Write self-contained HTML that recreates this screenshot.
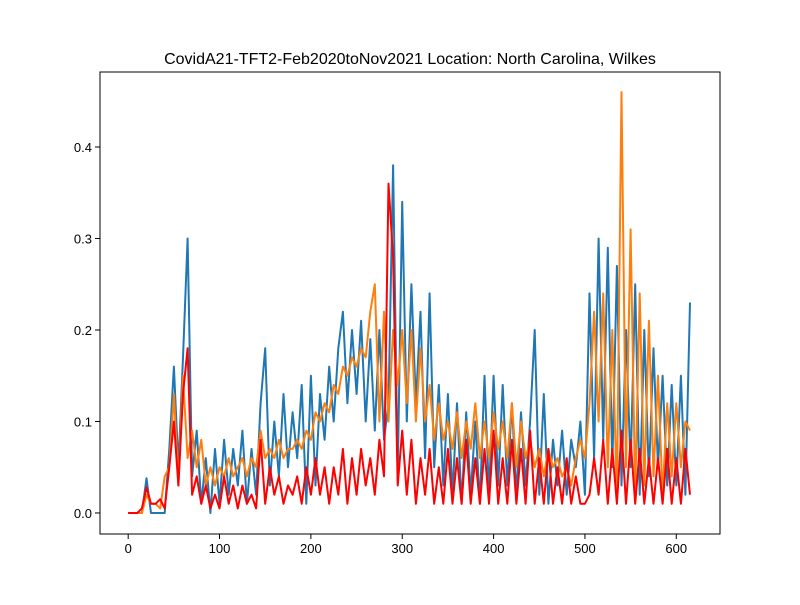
<!DOCTYPE html>
<html><head><meta charset="utf-8"><style>
body{margin:0;background:#fff;font-family:"Liberation Sans","DejaVu Sans",sans-serif}
</style></head><body>
<svg id="chart" width="800" height="600" xmlns="http://www.w3.org/2000/svg">
<rect width="800" height="600" fill="#fff"/>
<text x="410" y="64" text-anchor="middle" font-size="16">CovidA21-TFT2-Feb2020toNov2021 Location: North Carolina, Wilkes</text>
<g id="plot"></g>
<rect x="100" y="72" width="620" height="462" fill="none" stroke="#000" stroke-width="1"/>
</svg>
<script>
const xStep = 5;
const blueVals = [0,0,0,0,0.038,0,0,0,0,0.07,
0.16,0.05,0.17,0.3,0.04,0.09,0.01,0.06,0,0.07,
0.01,0.08,0.02,0.07,0.03,0.09,0.01,0.07,0.02,0.12,
0.18,0.03,0.1,0.04,0.13,0.05,0.11,0.06,0.14,0.01,
0.15,0.03,0.13,0.08,0.16,0.1,0.18,0.22,0.12,0.2,
0.13,0.21,0.1,0.19,0.09,0.2,0.08,0.12,0.38,0.04,
0.34,0.1,0.25,0.12,0.22,0.06,0.24,0.05,0.14,0.03,
0.13,0.02,0.12,0.01,0.11,0.02,0.1,0.01,0.15,0.02,
0.15,0.03,0.14,0.03,0.12,0.02,0.11,0.03,0.1,0.2,
0.02,0.13,0.01,0.08,0.03,0.09,0.02,0.08,0.05,0.1,
0.02,0.24,0.06,0.3,0.08,0.29,0.05,0.27,0.03,0.2,
0.05,0.25,0.02,0.2,0.04,0.18,0.05,0.15,0.03,0.14,
0.03,0.15,0.02,0.23];
const orangeVals = [0,0,0,0,0.02,0.01,0.01,0.005,0.04,0.05,
0.13,0.03,0.15,0.06,0.09,0.05,0.08,0.03,0.05,0.03,
0.05,0.04,0.06,0.04,0.05,0.06,0.04,0.06,0.05,0.09,
0.06,0.07,0.06,0.08,0.06,0.07,0.07,0.08,0.07,0.09,
0.08,0.11,0.1,0.12,0.11,0.14,0.13,0.16,0.15,0.17,
0.16,0.18,0.17,0.22,0.25,0.1,0.22,0.1,0.2,0.14,
0.2,0.12,0.2,0.1,0.18,0.1,0.14,0.08,0.12,0.08,
0.1,0.07,0.11,0.06,0.1,0.07,0.12,0.06,0.1,0.06,
0.11,0.07,0.1,0.06,0.12,0.05,0.1,0.06,0.08,0.05,
0.07,0.04,0.07,0.05,0.06,0.04,0.05,0.03,0.06,0.08,
0.06,0.12,0.22,0.1,0.24,0.05,0.2,0.02,0.46,0.05,
0.31,0.02,0.24,0.03,0.21,0.04,0.15,0.02,0.12,0.04,
0.12,0.05,0.1,0.09];
const redVals = [0,0,0,0.005,0.028,0.01,0.01,0.015,0.005,0.05,
0.1,0.03,0.13,0.18,0.02,0.04,0.01,0.03,0.005,0.02,
0.005,0.04,0.01,0.03,0.005,0.03,0.01,0.02,0.005,0.08,
0.01,0.05,0.02,0.04,0.01,0.03,0.02,0.04,0.01,0.05,
0.02,0.06,0.02,0.05,0.01,0.05,0.02,0.07,0.01,0.06,
0.02,0.07,0.03,0.06,0.02,0.08,0.04,0.36,0.28,0.03,
0.09,0.02,0.08,0.01,0.06,0.02,0.07,0.01,0.05,0.01,
0.07,0.01,0.06,0.01,0.08,0.01,0.06,0.01,0.07,0.01,
0.09,0.01,0.06,0.01,0.08,0.01,0.07,0.01,0.09,0.01,
0.06,0.01,0.07,0.01,0.05,0.01,0.06,0.01,0.04,0.01,
0.01,0.02,0.06,0.02,0.08,0.01,0.07,0.01,0.09,0.01,
0.08,0.01,0.07,0.01,0.06,0.01,0.06,0.01,0.07,0.01,
0.06,0.01,0.07,0.02];
const xTicks = [0,100,200,300,400,500,600];
const yTicks = [0.0,0.1,0.2,0.3,0.4];

const L=100,R=720,T=72,B=534;
const xMin=-30.85,xMax=647.85,yMin=-0.023,yMax=0.482;
const xs=v=>L+(v-xMin)/(xMax-xMin)*(R-L);
const ys=v=>B-(v-yMin)/(yMax-yMin)*(B-T);
const NS="http://www.w3.org/2000/svg";
const g=document.getElementById('plot');
function mk(t,a){const e=document.createElementNS(NS,t);for(const k in a)e.setAttribute(k,a[k]);g.appendChild(e);return e;}
xTicks.forEach(v=>{
  const l=mk('line',{x1:xs(v),x2:xs(v),y1:B,y2:B+5,stroke:'#000'});
  
  
  const t=mk('text',{x:xs(v),y:B+19,'text-anchor':'middle','font-size':'13'});
  t.textContent=v;
  
  
});
yTicks.forEach(v=>{
  const l=mk('line',{x1:L-5,x2:L,y1:ys(v),y2:ys(v),stroke:'#000'});
  
  
  const t=mk('text',{x:L-8,y:ys(v)+5,'text-anchor':'end','font-size':'13'});
  t.textContent=v.toFixed(1);
  
  
});
function series(vals,color,name){
  const d=vals.map((v,i)=>(i?'L':'M')+xs(i*xStep).toFixed(1)+','+ys(v).toFixed(1)).join('');
  const p=mk('path',{d:d,fill:'none',stroke:color,'stroke-width':2,'stroke-linejoin':'round'});
  
  
}
series(blueVals,'#1f77b4','blue-series-line');
series(orangeVals,'#ff7f0e','orange-series-line');
series(redVals,'#ff0000','red-series-line');
</script>
</body></html>
